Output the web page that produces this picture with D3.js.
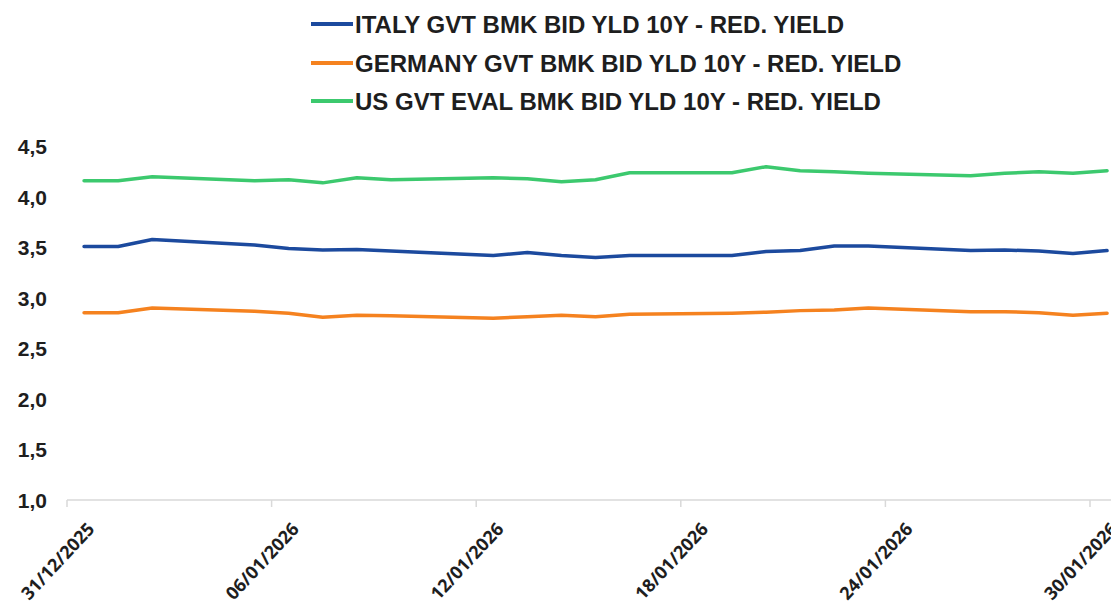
<!DOCTYPE html>
<html>
<head>
<meta charset="utf-8">
<script src="https://cdn.jsdelivr.net/npm/d3@7"></script>
<style>
  html, body { margin: 0; padding: 0; background: #ffffff; }
  svg { display: block; }
</style>
</head>
<body>
<svg id="chart" width="1111" height="612"></svg>
<script>
// ---- data ----
const dates = ["2025-12-31","2026-01-01","2026-01-02","2026-01-05","2026-01-06","2026-01-07","2026-01-08","2026-01-09",
  "2026-01-12","2026-01-13","2026-01-14","2026-01-15","2026-01-16","2026-01-19","2026-01-20","2026-01-21","2026-01-22",
  "2026-01-23","2026-01-26","2026-01-27","2026-01-28","2026-01-29","2026-01-30"];
const italy   = [3.51,3.51,3.58,3.525,3.49,3.475,3.48,3.465,3.42,3.45,3.42,3.40,3.42,3.42,3.46,3.47,3.515,3.515,3.47,3.475,3.465,3.44,3.47];
const germany = [2.855,2.855,2.90,2.87,2.85,2.81,2.83,2.825,2.80,2.815,2.83,2.815,2.84,2.85,2.86,2.875,2.88,2.90,2.865,2.865,2.855,2.83,2.85];
const us      = [4.16,4.16,4.20,4.16,4.17,4.14,4.19,4.17,4.19,4.18,4.15,4.17,4.24,4.24,4.30,4.26,4.25,4.235,4.21,4.235,4.25,4.235,4.26];
const seriesNames = ["ITALY GVT BMK BID YLD 10Y - RED. YIELD","GERMANY GVT BMK BID YLD 10Y - RED. YIELD","US GVT EVAL BMK BID YLD 10Y - RED. YIELD"];
const seriesColors = ["#1c4a9e","#f5821f","#3cc96e"];
const xTickDates = ["2025-12-31","2026-01-06","2026-01-12","2026-01-18","2026-01-24","2026-01-30"];
const yTicks = [1.0,1.5,2.0,2.5,3.0,3.5,4.0,4.5];

// ---- setup ----
const parse = d3.utcParse("%Y-%m-%d");
const fmtDate = d3.utcFormat("%d/%m/%Y");
const fmtY = v => d3.format(".1f")(v).replace(".", ",");
const svg = d3.select("#chart");

const dayMs = 86400000;
const x = d3.scaleUtc()
  .domain([parse("2025-12-31"), parse("2026-01-31")])
  .range([67, 67 + 31 * 34.1]);
const y = d3.scaleLinear().domain([1, 4.5]).range([500, 146.5]);

const series = [italy, germany, us].map((vals, i) => ({
  name: seriesNames[i], color: seriesColors[i],
  points: vals.map((v, j) => ({ date: new Date(parse(dates[j]).getTime() + dayMs / 2), value: v }))
}));

// ---- x axis ----
const xAxis = svg.append("g").attr("transform", "translate(0,500)");
xAxis.append("line").attr("x1", 67).attr("x2", 1111).attr("y1", 0).attr("y2", 0)
  .attr("stroke", "#d9d9d9").attr("stroke-width", 1.5);
const xt = xTickDates.map(parse);
xAxis.selectAll("line.tick").data(xt).enter().append("line").attr("class", "tick")
  .attr("x1", d => x(d)).attr("x2", d => x(d)).attr("y1", 0).attr("y2", 7)
  .attr("stroke", "#d9d9d9").attr("stroke-width", 1.5);
svg.selectAll("text.xlab").data(xt).enter().append("text").attr("class", "xlab")
  .attr("transform", d => `translate(${x(d) + 19},521) rotate(-47)`)
  .attr("text-anchor", "end").attr("dy", "0.72em")
  .attr("font-family", "'Open Sans', 'Liberation Sans', sans-serif")
  .attr("font-weight", 700).attr("font-size", 18).attr("fill", "#1e1e1e")
  .text(d => fmtDate(d));

// ---- y axis labels ----
svg.selectAll("text.ylab").data(yTicks).enter().append("text").attr("class", "ylab")
  .attr("x", 47).attr("y", d => y(d)).attr("dy", "0.36em")
  .attr("text-anchor", "end")
  .attr("font-family", "'Liberation Sans', Arial, sans-serif")
  .attr("font-weight", 700).attr("font-size", 21).attr("fill", "#1e1e1e")
  .text(d => fmtY(d));

// ---- lines ----
const line = d3.line().x(d => x(d.date)).y(d => y(d.value)).curve(d3.curveLinear);
svg.selectAll("path.series").data(series).enter().append("path").attr("class", "series")
  .attr("d", d => line(d.points))
  .attr("fill", "none").attr("stroke", d => d.color).attr("stroke-width", 3.5)
  .attr("stroke-linejoin", "round").attr("stroke-linecap", "round");

// ---- legend ----
const legend = svg.append("g");
const rowsY = [24, 63, 101];
series.forEach((s, i) => {
  legend.append("line").attr("x1", 311).attr("x2", 353).attr("y1", rowsY[i]).attr("y2", rowsY[i])
    .attr("stroke", s.color).attr("stroke-width", 4);
  legend.append("text").attr("x", 355).attr("y", rowsY[i]).attr("dy", "0.36em")
    .attr("font-family", "'Liberation Sans', Arial, sans-serif")
    .attr("font-weight", 700).attr("font-size", 24).attr("fill", "#1e1e1e")
    .text(s.name);
});
</script>
</body>
</html>
